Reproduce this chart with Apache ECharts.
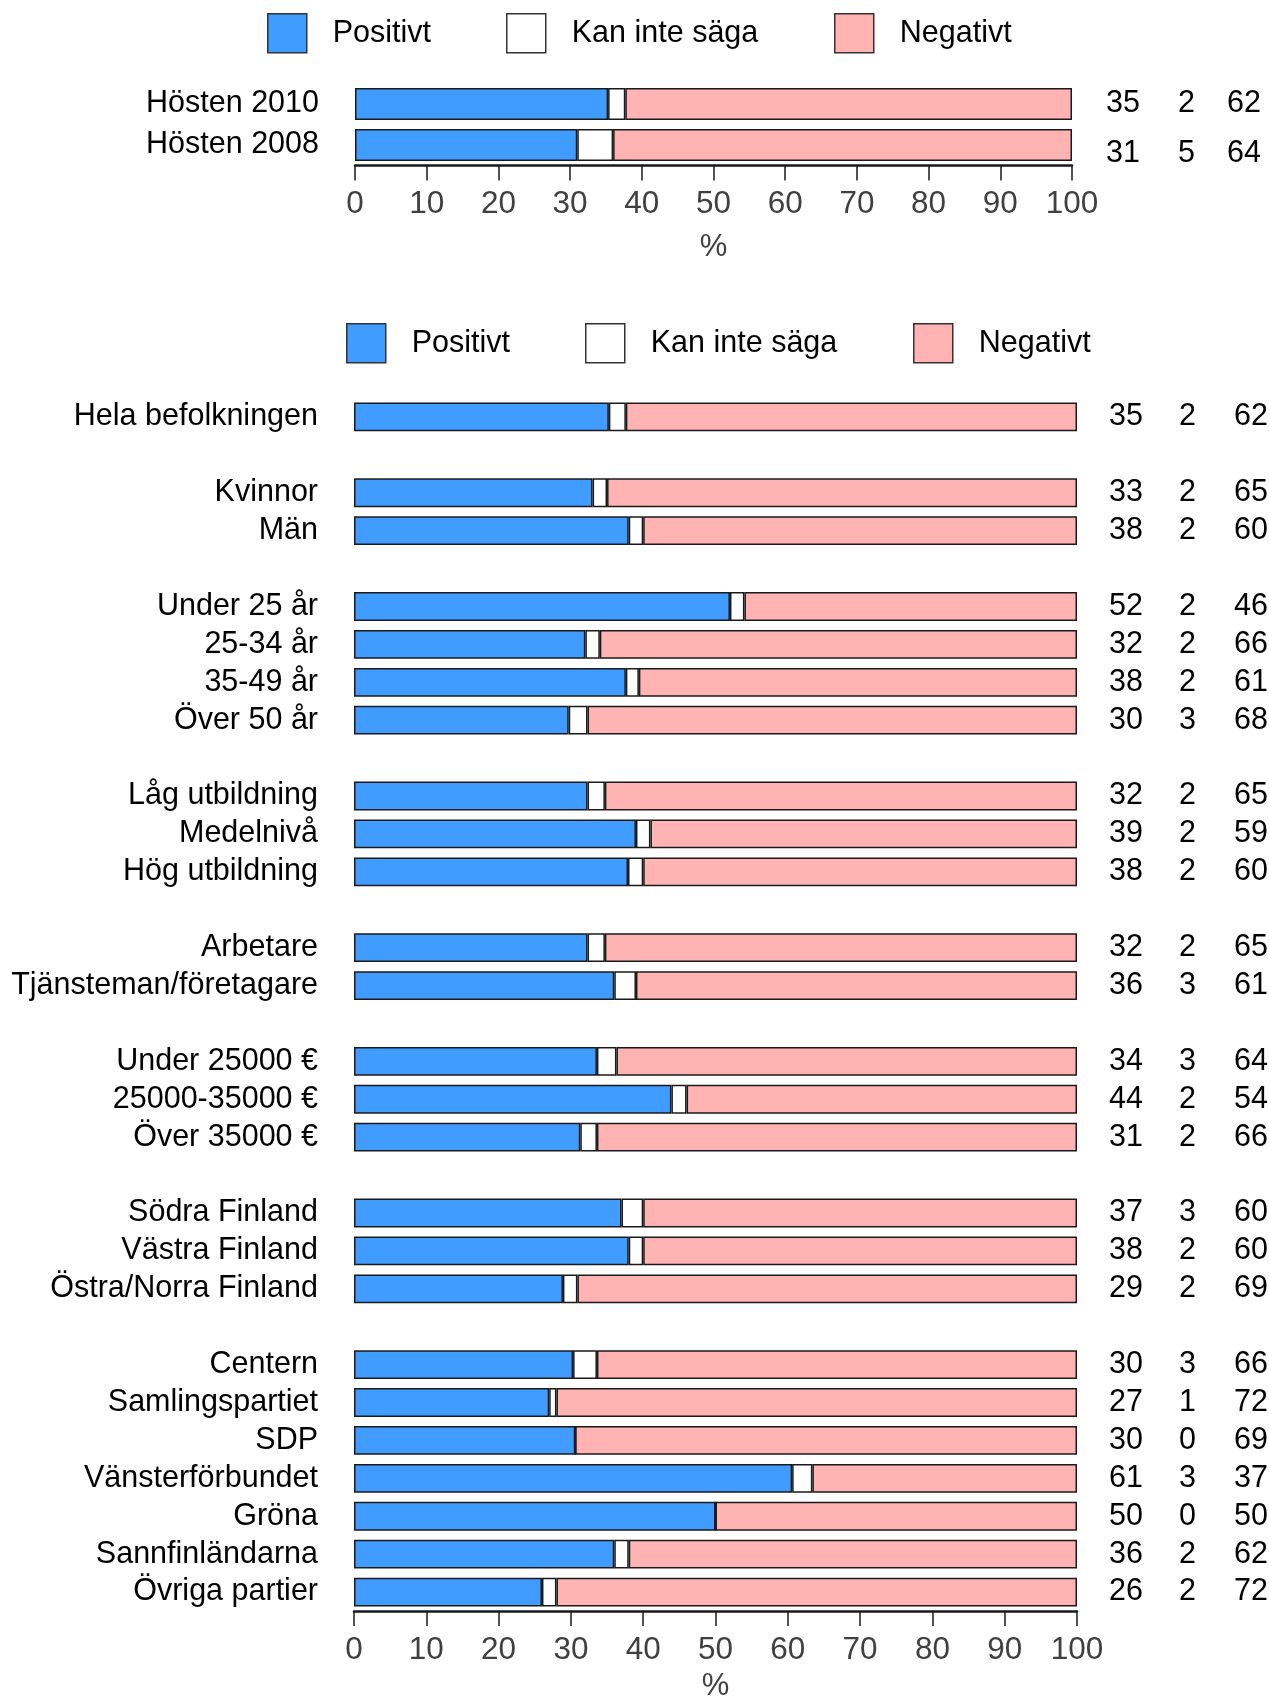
<!DOCTYPE html>
<html>
<head>
<meta charset="utf-8">
<title>Positivt / Negativt</title>
<script src="https://cdn.jsdelivr.net/npm/echarts@6/dist/echarts.min.js"></script>
<style>
html, body { margin: 0; padding: 0; background: #fff; }
#main { width: 1269px; height: 1707px; }
</style>
</head>
<body>
<div id="main"></div>
<script>
// ---- top chart: autumn 2010 vs autumn 2008 ----
var topCategories = ['Hösten 2010', 'Hösten 2008'];
var topPositivt = [35.3, 31.0];
var topKan = [2.4, 5.0];
var topNegativt = [62.3, 64.0];
// printed numbers at the right
var topPosLab = [35, 31];
var topKanLab = [2, 5];
var topNegLab = [62, 64];

// ---- bottom chart: groups ('' = empty row between groups) ----
var categories = [
  'Hela befolkningen', '',
  'Kvinnor', 'Män', '',
  'Under 25 år', '25-34 år', '35-49 år', 'Över 50 år', '',
  'Låg utbildning', 'Medelnivå', 'Hög utbildning', '',
  'Arbetare', 'Tjänsteman/företagare', '',
  'Under 25000 €', '25000-35000 €', 'Över 35000 €', '',
  'Södra Finland', 'Västra Finland', 'Östra/Norra Finland', '',
  'Centern', 'Samlingspartiet', 'SDP', 'Vänsterförbundet', 'Gröna', 'Sannfinländarna', 'Övriga partier'
];
var positivt = [35.25, null, 33.0, 38.0, null, 52.0, 32.0, 37.6, 29.7, null, 32.3, 39.0, 37.9, null, 32.3, 36.0, null,
  33.6, 43.9, 31.3, null, 37.0, 38.0, 28.9, null, 30.3, 27.0, 30.6, 60.6, 50.0, 36.0, 26.0];
var kanInte = [2.35, null, 2.0, 2.0, null, 2.0, 2.0, 1.8, 2.6, null, 2.4, 2.0, 2.1, null, 2.4, 3.0, null,
  2.7, 2.1, 2.3, null, 3.0, 2.0, 2.0, null, 3.3, 1.0, 0, 2.8, 0, 2.0, 2.0];
var negativt = [62.4, null, 65.0, 60.0, null, 46.0, 66.0, 60.6, 67.7, null, 65.3, 59.0, 60.0, null, 65.3, 61.0, null,
  63.7, 54.0, 66.4, null, 60.0, 60.0, 69.1, null, 66.4, 72.0, 69.4, 36.6, 50.0, 62.0, 72.0];
var posLab = [35, null, 33, 38, null, 52, 32, 38, 30, null, 32, 39, 38, null, 32, 36, null,
  34, 44, 31, null, 37, 38, 29, null, 30, 27, 30, 61, 50, 36, 26];
var kanLab = [2, null, 2, 2, null, 2, 2, 2, 3, null, 2, 2, 2, null, 2, 3, null,
  3, 2, 2, null, 3, 2, 2, null, 3, 1, 0, 3, 0, 2, 2];
var negLab = [62, null, 65, 60, null, 46, 66, 61, 68, null, 65, 59, 60, null, 65, 61, null,
  64, 54, 66, null, 60, 60, 69, null, 66, 72, 69, 37, 50, 62, 72];

var xTicks = [0, 10, 20, 30, 40, 50, 60, 70, 80, 90, 100];

var FONT = '"Liberation Sans", Arial, Helvetica, sans-serif';
var FS = 30.5;
var BLUE = '#409cff', PINK = '#ffb3b3', WHITE = '#ffffff';

// blank rows need distinct names on the category axis
var axisCats = categories.map(function (c, i) { return c === '' ? ' '.repeat(i) : c; });

function numLabel(p1, p2, p3, widths) {
  return {
    show: true,
    position: 'right',
    distance: 0,
    formatter: function (p) {
      var i = p.dataIndex;
      if (p1[i] == null) return '';
      return '{a|' + p1[i] + '}{b|' + p2[i] + '}{c|' + p3[i] + '}';
    },
    rich: {
      a: { width: widths[0], align: 'right', fontSize: FS, color: '#000', fontFamily: FONT },
      b: { width: widths[1], align: 'right', fontSize: FS, color: '#000', fontFamily: FONT },
      c: { width: widths[2], align: 'right', fontSize: FS, color: '#000', fontFamily: FONT }
    }
  };
}

function bar(name, data, color, idx, stack, gap, label) {
  var s = {
    name: name,
    type: 'bar',
    stack: stack,
    xAxisIndex: idx,
    yAxisIndex: idx,
    barCategoryGap: gap,
    data: data,
    itemStyle: { color: color, borderColor: '#1a1a1a', borderWidth: 1.5 },
    emphasis: { disabled: true },
    animation: false
  };
  if (label) s.label = label;
  return s;
}

function legendItem(name, left, top) {
  return {
    data: [name],
    left: left,
    top: top,
    padding: 0,
    icon: 'rect',
    itemWidth: 39,
    itemHeight: 39,
    itemGap: 0,
    selectedMode: false,
    itemStyle: { borderColor: '#333', borderWidth: 1.5 },
    textStyle: { fontSize: FS, color: '#000', fontFamily: FONT, padding: [0, 0, 0, 21] }
  };
}

function xAx(idx, nameGap) {
  return {
    gridIndex: idx,
    type: 'value',
    min: xTicks[0],
    max: xTicks[xTicks.length - 1],
    interval: xTicks[1] - xTicks[0],
    axisLine: { show: true, lineStyle: { color: '#1a1a1a', width: 2.5 } },
    axisTick: { show: true, length: 15, lineStyle: { color: '#1a1a1a', width: 1.5 } },
    splitLine: { show: false },
    axisLabel: { fontSize: 31.5, color: '#404040', margin: 23, fontFamily: FONT },
    name: '%',
    nameLocation: 'middle',
    nameGap: nameGap,
    nameTextStyle: { fontSize: 31, color: '#404040', fontFamily: FONT }
  };
}

function yAx(idx, data) {
  return {
    gridIndex: idx,
    type: 'category',
    inverse: true,
    data: data,
    axisLine: { show: false },
    axisTick: { show: false },
    axisLabel: { interval: 0, fontSize: FS, color: '#000', margin: 36, fontFamily: FONT }
  };
}

// second row of the top chart has its numbers a little lower
var topNegData = topNegativt.map(function (v, i) {
  return i === 1 ? { value: v, label: { offset: [0, 9] } } : v;
});

var chart = echarts.init(document.getElementById('main'));
chart.setOption({
  backgroundColor: '#fff',
  animation: false,
  textStyle: { fontFamily: FONT },
  legend: [
    legendItem('Positivt', 267, 13),
    legendItem('Kan inte säga', 506, 13),
    legendItem('Negativt', 834, 13),
    legendItem('Positivt', 346, 323),
    legendItem('Kan inte säga', 585, 323),
    legendItem('Negativt', 913, 323)
  ],
  grid: [
    { left: 355, right: 197, top: 83.5, height: 82 },
    { left: 354, right: 192, top: 398, height: 1219.3 }
  ],
  xAxis: [xAx(0, 66), xAx(1, 60)],
  yAxis: [yAx(0, topCategories), yAx(1, axisCats)],
  series: [
    bar('Positivt', topPositivt, BLUE, 0, 'top', '22%'),
    bar('Kan inte säga', topKan, WHITE, 0, 'top', '22%'),
    bar('Negativt', topNegData, PINK, 0, 'top', '22%', numLabel(topPosLab, topKanLab, topNegLab, [68, 55, 66])),
    bar('Positivt', positivt, BLUE, 1, 'bottom', '24%'),
    bar('Kan inte säga', kanInte, WHITE, 1, 'bottom', '24%'),
    bar('Negativt', negativt, PINK, 1, 'bottom', '24%', numLabel(posLab, kanLab, negLab, [66, 53, 72]))
  ]
});
</script>
</body>
</html>
